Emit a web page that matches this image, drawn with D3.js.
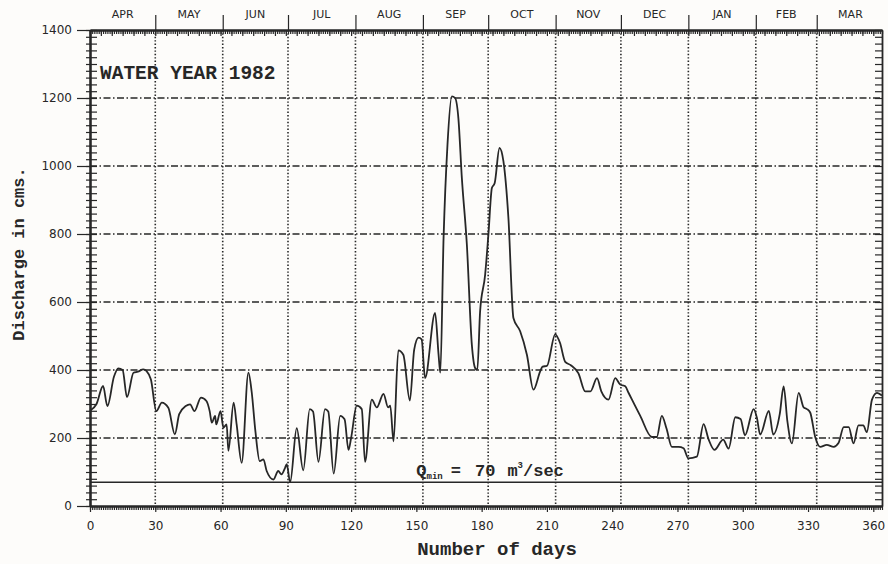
<!DOCTYPE html>
<html>
<head>
<meta charset="utf-8">
<script src="https://cdn.jsdelivr.net/npm/d3@7"></script>
<style>
  body { margin: 0; background: #fdfcfa; }
  svg { display: block; }
</style>
</head>
<body>
<div id="chart"></div>
<script>
// Daily discharge, water year 1982
const days = [0, 3, 6, 8, 11, 13, 15, 17, 20, 22, 24.5, 26, 28, 30.5, 33, 36, 39, 41, 44, 46,
  48, 51, 53.5, 55, 56, 57.5, 58, 60, 61.3, 62.8, 63.6, 66, 67.4, 69.7, 72.8, 74.3, 76, 78, 79.7, 81.2,
  84.3, 86.5, 88, 89.7, 90.4, 92, 95, 98, 101, 102.5, 105, 108, 109.5, 112, 115, 117, 118.8, 120, 122.6, 124.9,
  126.4, 129.5, 131.8, 134.9, 137, 138, 139.5, 141.7, 144, 147, 149, 151, 152.4, 154, 158.6, 160.2, 161, 162.5, 164.3, 166.3,
  167.8, 169.3, 170.9, 173.2, 175.5, 177, 178, 179.3, 181.6, 183.1, 184.7, 186, 188.2, 190, 192.3, 194.6, 197.7, 200.8, 203.8, 206.9,
  208, 210, 213.8, 216, 218.4, 221, 224.5, 227.6, 230, 233, 235, 238.3, 241.4, 243.7, 246, 247.5, 252.9, 258.2, 260.5, 262.8,
  265, 267.4, 270.5, 272.8, 275, 278.9, 282, 284.3, 287, 291, 293.5, 296.6, 299, 301, 305, 306.5, 308, 312, 314, 317,
  318.8, 320.5, 322.6, 325.7, 328, 329.5, 331, 333.3, 335.6, 338.6, 341.8, 344, 346.4, 348.7, 350.9, 353.2, 355.4, 357, 359.4, 361.7, 364];
const discharge = [280, 300, 353, 294, 380, 405, 400, 320, 392, 395, 402, 397, 372, 279, 304, 289, 211, 270, 294, 299,
  279, 319, 309, 279, 245, 265, 240, 279, 230, 240, 162, 304, 240, 127, 392, 336, 221, 132, 137, 103,
  78, 103, 93, 113, 123, 70, 229, 105, 285, 278, 130, 285, 278, 95, 265, 255, 165, 200, 295, 285,
  130, 313, 290, 330, 290, 295, 190, 458, 445, 310, 460, 495, 490, 376, 568, 445, 392, 788, 1063, 1205,
  1200, 1141, 965, 769, 474, 406, 400, 573, 680, 798, 935, 950, 1053, 1014, 847, 553, 514, 445, 342, 396,
  410, 412, 505, 480, 424, 414, 390, 337, 337, 376, 337, 313, 376, 357, 352, 333, 265, 203, 203, 265,
  227, 174, 174, 170, 140, 145, 241, 196, 165, 195, 169, 261, 256, 208, 285, 260, 210, 280, 210, 270,
  352, 250, 184, 333, 290, 285, 275, 203, 174, 180, 174, 185, 232, 232, 184, 237, 237, 217, 313, 333, 325];

const monthNames = ['APR', 'MAY', 'JUN', 'JUL', 'AUG', 'SEP', 'OCT', 'NOV', 'DEC', 'JAN', 'FEB', 'MAR'];
const monthStarts = [0, 30, 61, 91, 122, 153, 183, 214, 244, 275, 306, 334, 365];
const dayTicks = [0, 30, 60, 90, 120, 150, 180, 210, 240, 270, 300, 330, 360];
const dischargeTicks = [0, 200, 400, 600, 800, 1000, 1200, 1400];
const qMin = 70;

const width = 888;
const height = 564;
const ink = '#272727';

const svg = d3.select('#chart')
    .append('svg')
    .attr('width', width)
    .attr('height', height)
    .style('background', '#fdfcfa');

const x = d3.scaleLinear().domain([0, 364]).range([90, 882]);
const y = d3.scaleLinear().domain([0, 1400]).range([506, 30]);

const tickFont = '"DejaVu Sans", sans-serif';
const monoFont = '"Liberation Mono", "DejaVu Sans Mono", monospace';

// grid: dash-dot horizontals, dotted month lines
svg.append('g')
    .selectAll('line')
    .data(dischargeTicks.filter(v => v > 0 && v < 1400))
    .enter().append('line')
    .attr('x1', x(0)).attr('x2', x(364))
    .attr('y1', d => y(d)).attr('y2', d => y(d))
    .attr('stroke', ink)
    .attr('stroke-width', 1.4)
    .attr('stroke-dasharray', '7,2.5,1.5,2.5');

svg.append('g')
    .selectAll('line')
    .data(monthStarts.slice(1, -1))
    .enter().append('line')
    .attr('x1', d => x(d)).attr('x2', d => x(d))
    .attr('y1', y(1400)).attr('y2', y(0))
    .attr('stroke', ink)
    .attr('stroke-width', 1.6)
    .attr('stroke-dasharray', '1.4,2');

// Q min line
svg.append('line')
    .attr('x1', x(0)).attr('x2', x(364))
    .attr('y1', y(qMin)).attr('y2', y(qMin))
    .attr('stroke', ink)
    .attr('stroke-width', 1.6);

// hydrograph
const pts = days.map((d, i) => [d, discharge[i]]);
svg.append('path')
    .datum(pts)
    .attr('fill', 'none')
    .attr('stroke', ink)
    .attr('stroke-width', 1.8)
    .attr('stroke-linejoin', 'round')
    .attr('d', d3.line().x(d => x(d[0])).y(d => y(d[1])).curve(d3.curveMonotoneX));

// axes
function styleAxis(g) {
    g.selectAll('path.domain').attr('stroke', ink).attr('stroke-width', 1.8);
    g.selectAll('.tick line').attr('stroke', ink).attr('stroke-width', 1.2);
    g.selectAll('.tick text').attr('fill', ink).attr('font-family', tickFont).attr('font-size', 12);
}

const minorY = d3.range(0, 1401, 20);
const everyDay = d3.range(0, 365, 1);
const everyFive = d3.range(0, 365, 5);

// left
svg.append('g').attr('transform', `translate(${x(0)},0)`)
    .call(d3.axisRight(y).tickValues(minorY).tickSize(7).tickSizeOuter(0).tickFormat(''))
    .call(styleAxis);
svg.append('g').attr('transform', `translate(${x(0)},0)`)
    .call(d3.axisLeft(y).tickValues(minorY).tickSize(4).tickSizeOuter(0).tickFormat(''))
    .call(styleAxis);
svg.append('g').attr('transform', `translate(${x(0)},0)`)
    .call(d3.axisLeft(y).tickValues(dischargeTicks).tickSize(13).tickPadding(5).tickSizeOuter(0)
        .tickFormat(d3.format('d')))
    .call(styleAxis);

// right
svg.append('g').attr('transform', `translate(${x(364)},0)`)
    .call(d3.axisLeft(y).tickValues(minorY).tickSize(7).tickSizeOuter(0).tickFormat(''))
    .call(styleAxis);

// top
svg.append('g').attr('transform', `translate(0,${y(1400)})`)
    .call(d3.axisBottom(x).tickValues(everyDay).tickSize(4).tickSizeOuter(0).tickFormat(''))
    .call(styleAxis);
svg.append('g').attr('transform', `translate(0,${y(1400)})`)
    .call(d3.axisBottom(x).tickValues(everyFive).tickSize(6).tickSizeOuter(0).tickFormat(''))
    .call(styleAxis);
svg.append('g').attr('transform', `translate(0,${y(1400)})`)
    .call(d3.axisTop(x).tickValues(monthStarts.slice(1, -1)).tickSize(15).tickSizeOuter(0).tickFormat(''))
    .call(g => g.select('path.domain').remove())
    .call(styleAxis);

// bottom
svg.append('g').attr('transform', `translate(0,${y(0)})`)
    .call(d3.axisBottom(x).tickValues(everyDay).tickSize(4).tickSizeOuter(0).tickFormat(''))
    .call(styleAxis);
svg.append('g').attr('transform', `translate(0,${y(0)})`)
    .call(d3.axisBottom(x).tickValues(dayTicks).tickSize(6).tickPadding(9).tickSizeOuter(0))
    .call(styleAxis);

// month labels
svg.append('g')
    .selectAll('text')
    .data(monthNames)
    .enter().append('text')
    .attr('x', (d, i) => x((monthStarts[i] + monthStarts[i + 1]) / 2))
    .attr('y', 18)
    .attr('text-anchor', 'middle')
    .attr('font-family', tickFont)
    .attr('font-size', 11)
    .attr('fill', ink)
    .text(d => d);

// titles
svg.append('text')
    .attr('x', 100).attr('y', 79)
    .attr('font-family', monoFont).attr('font-weight', 'bold')
    .attr('font-size', 19.5).attr('fill', ink)
    .text('WATER YEAR 1982');

svg.append('text')
    .attr('x', 497).attr('y', 555)
    .attr('text-anchor', 'middle')
    .attr('font-family', monoFont).attr('font-weight', 'bold')
    .attr('font-size', 19).attr('fill', ink)
    .text('Number of days');

svg.append('text')
    .attr('transform', 'translate(24,254) rotate(-90)')
    .attr('text-anchor', 'middle')
    .attr('font-family', monoFont).attr('font-weight', 'bold')
    .attr('font-size', 17).attr('fill', ink)
    .text('Discharge in cms.');

// Q min annotation
const q = svg.append('text')
    .attr('x', x(150)).attr('y', y(qMin) - 6)
    .attr('font-family', monoFont).attr('font-weight', 'bold')
    .attr('font-size', 17).attr('fill', ink);
q.append('tspan').text('Q');
q.append('tspan').attr('font-size', 9).attr('dy', 3).text('min');
q.append('tspan').attr('dy', -3).attr('dx', 8).text('=');
q.append('tspan').attr('dx', 14).text('70');
q.append('tspan').attr('dx', 12).text('m');
q.append('tspan').attr('font-size', 9).attr('dy', -8).text('3');
q.append('tspan').attr('dy', 8).text('/sec');
</script>
</body>
</html>
